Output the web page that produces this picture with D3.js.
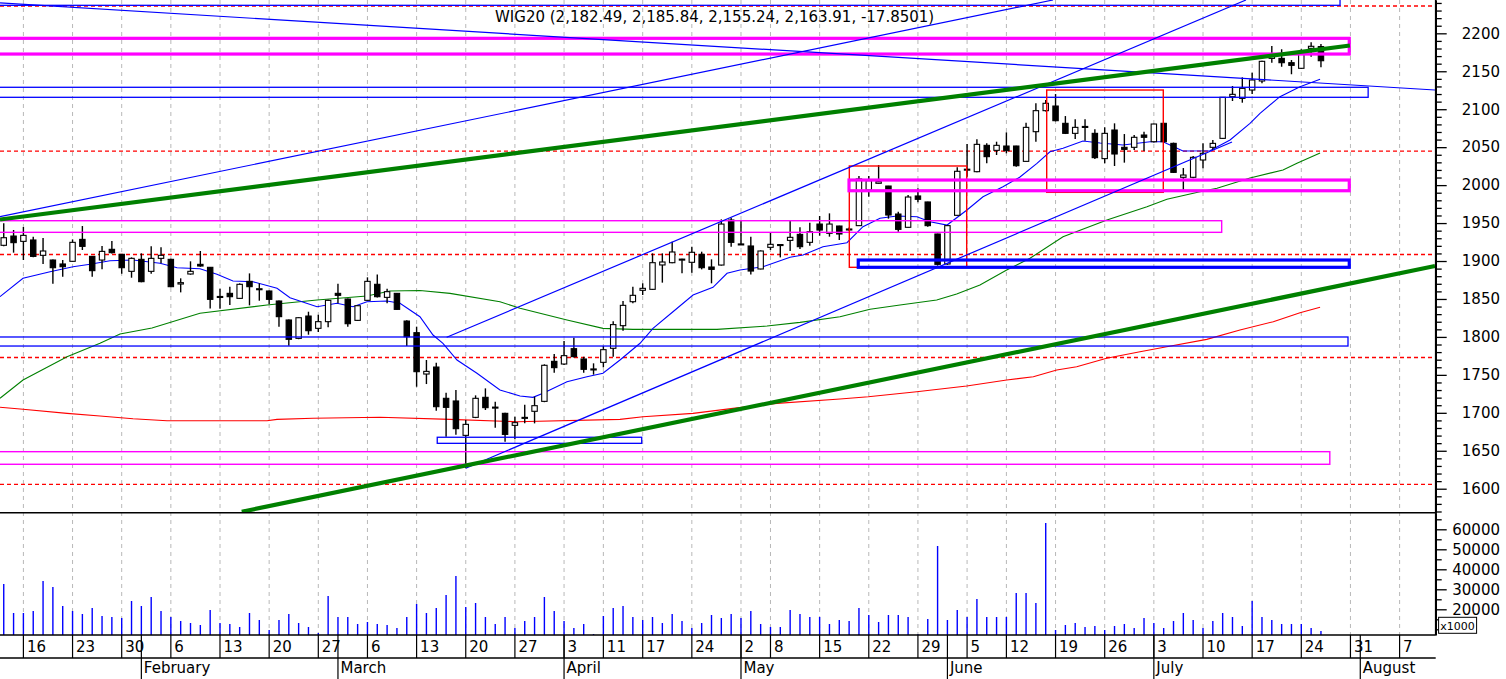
<!DOCTYPE html>
<html><head><meta charset="utf-8">
<script src="https://cdn.jsdelivr.net/npm/d3@7"></script>
<style>
html,body{margin:0;padding:0;background:#fff;overflow:hidden}
svg{display:block}
text{font-family:"DejaVu Sans",sans-serif;fill:#000}
</style></head><body>
<svg id="c" width="1506" height="679"></svg>
<script>
// ---------- trading calendar (WSE 2023) ----------
const calJan=[12,13,16,17,18,19,20,23,24,25,26,27,30,31];
const calFeb=[1,2,3,6,7,8,9,10,13,14,15,16,17,20,21,22,23,24,27,28];
const calMar=[1,2,3,6,7,8,9,10,13,14,15,16,17,20,21,22,23,24,27,28,29,30,31];
const calApr=[3,4,5,6,11,12,13,14,17,18,19,20,21,24,25,26,27,28];
const calMay=[2,4,5,8,9,10,11,12,15,16,17,18,19,22,23,24,25,26,29,30,31];
const calJun=[1,2,5,6,7,9,12,13,14,15,16,19,20,21,22,23,26,27,28,29,30];
const calJul=[3,4,5,6,7,10,11,12,13,14,17,18,19,20,21,24,25,26,27,28,31];
const calAug=[1,2,3,4,7,8,9,10,11];

// ---------- OHLC (12 Jan 2023 .. 26 Jul 2023) ----------
const open=[1920.7,1932.9,1925.9,1927.7,1907.5,1901.3,1896.1,1899.6,1928.5,1906.1,
1901.3,1915.4,1908.8,1886.4,1902.2,1886.4,1903.5,1902.2,1869.7,1882.9,
1895.6,1891.7,1853.0,1857.4,1850.8,1873.2,1862.6,1860.5,1847.3,1822.3,
1798.1,1827.5,1811.3,1820.1,1857.4,1849.9,1821.8,1848.2,1869.3,1852.1,
1857.4,1820.9,1805.6,1751.1,1760.3,1719.1,1715.6,1670.3,1694.0,1720.4,
1707.0,1699.3,1683.5,1693.6,1702.0,1715.1,1767.8,1764.3,1784.5,1770.9,
1757.0,1766.5,1785.0,1814.8,1846.4,1861.4,1862.7,1894.8,1897.8,1902.2,
1898.3,1908.8,1892.1,1894.7,1954.0,1922.5,1919.8,1889.5,1918.0,1921.7,
1927.2,1935.1,1924.6,1948.7,1936.5,1946.1,1942.2,1946.6,1993.6,2002.4,
1998.8,1961.9,1944.4,1985.7,1977.8,1935.6,1896.1,1960.2,2020.5,2017.7,
2052.4,2045.8,2051.5,2051.5,2031.3,2070.4,2098.1,2104.2,2081.4,2068.2,
2077.0,2068.2,2034.9,2072.6,2049.8,2049.8,2066.0,2057.2,2081.4,2055.0,
2010.3,2010.3,2033.1,2049.8,2061.6,2116.5,2114.3,2125.3,2137.2,2167.0,
2167.0,2161.3,2153.9,2180.2,2182.49];
const high=[1949.7,1940.9,1944.8,1932.1,1930.3,1902.0,1901.3,1928.5,1946.1,1906.5,
1919.8,1926.3,1909.2,1904.8,1910.1,1919.3,1918.0,1903.0,1877.2,1899.6,
1913.2,1892.0,1863.5,1866.2,1870.6,1883.7,1870.6,1861.0,1848.0,1823.0,
1826.0,1833.2,1829.3,1849.0,1870.1,1850.5,1842.0,1878.5,1882.4,1863.5,
1858.0,1822.0,1813.5,1769.6,1766.1,1726.5,1730.0,1690.5,1723.0,1732.2,
1714.7,1700.0,1694.9,1710.7,1721.3,1763.9,1777.5,1794.6,1799.0,1774.0,
1765.2,1788.0,1820.5,1847.3,1866.2,1870.6,1910.1,1910.1,1925.5,1903.0,
1918.9,1912.3,1902.2,1954.9,1957.1,1954.0,1932.1,1914.0,1937.3,1922.0,
1953.1,1944.4,1950.5,1959.3,1962.8,1946.5,1944.0,2012.0,2012.0,2026.5,
1999.0,1965.0,1987.0,1995.8,1978.0,1936.0,1947.0,2023.4,2054.2,2060.3,
2055.0,2057.2,2069.5,2052.0,2082.3,2107.8,2112.0,2120.0,2091.0,2086.7,
2086.7,2073.5,2076.1,2081.4,2067.3,2066.0,2070.4,2081.0,2082.0,2056.0,
2022.5,2038.4,2055.0,2059.4,2116.0,2130.6,2142.0,2148.2,2164.0,2183.3,
2178.9,2164.8,2178.9,2188.1,2185.84];
const low=[1919.5,1911.0,1901.3,1904.8,1896.1,1870.1,1879.4,1899.0,1914.5,1879.4,
1889.0,1910.0,1883.3,1878.0,1872.0,1883.3,1896.9,1865.3,1858.7,1882.0,
1892.5,1837.6,1837.2,1842.0,1850.0,1841.6,1847.7,1843.3,1813.5,1788.5,
1797.0,1802.9,1806.4,1812.6,1844.2,1813.5,1821.0,1847.7,1852.0,1844.2,
1835.9,1788.0,1734.4,1737.9,1702.8,1668.5,1671.2,1626.8,1693.0,1703.7,
1680.4,1662.0,1665.1,1686.1,1686.1,1714.0,1752.9,1763.0,1773.0,1752.9,
1750.3,1759.9,1774.0,1808.2,1844.3,1855.2,1861.8,1871.5,1897.0,1883.8,
1884.7,1889.0,1870.6,1894.0,1918.9,1921.0,1882.4,1889.0,1914.5,1904.8,
1913.2,1915.8,1920.2,1933.4,1932.1,1927.7,1940.0,1946.0,1984.8,2002.0,
1955.8,1938.7,1944.0,1977.3,1945.0,1893.9,1895.0,1960.0,2011.1,2017.0,
2028.7,2039.7,2041.9,2024.3,2031.0,2057.2,2097.0,2084.0,2067.3,2060.8,
2058.6,2034.4,2028.7,2025.2,2029.6,2046.3,2045.0,2056.0,2056.0,2016.0,
1991.0,2009.0,2022.1,2046.3,2061.0,2110.8,2108.6,2120.0,2134.1,2161.3,
2156.0,2146.0,2153.0,2169.2,2155.24];
const close=[1930.7,1924.2,1933.8,1906.1,1913.2,1891.2,1892.5,1924.6,1919.3,1887.3,
1912.7,1911.0,1891.2,1903.5,1872.8,1903.5,1907.5,1866.2,1871.5,1886.4,
1893.4,1849.5,1853.3,1853.0,1869.3,1866.2,1863.5,1849.5,1826.7,1796.8,
1825.3,1808.2,1820.1,1848.2,1854.8,1817.4,1841.1,1873.2,1853.0,1859.6,
1836.3,1800.3,1754.2,1754.6,1708.1,1707.2,1679.1,1684.8,1719.1,1706.8,
1707.5,1671.6,1687.0,1694.0,1709.4,1762.6,1759.5,1775.3,1774.0,1757.3,
1757.8,1783.2,1816.2,1841.6,1854.8,1864.0,1897.8,1898.7,1911.9,1902.5,
1911.5,1891.2,1889.0,1948.7,1924.6,1922.0,1886.8,1913.2,1922.0,1921.5,
1931.2,1918.9,1938.6,1940.8,1948.7,1935.6,1942.0,2008.1,2005.9,2004.5,
1960.6,1941.7,1984.3,1981.3,1946.6,1895.6,1946.6,2018.2,2021.0,2053.7,
2037.5,2052.4,2045.4,2025.6,2076.1,2098.1,2107.8,2084.9,2068.2,2076.1,
2077.3,2036.2,2068.2,2041.0,2047.1,2063.0,2063.0,2080.5,2057.2,2016.8,
2013.3,2036.6,2041.9,2055.0,2115.7,2119.6,2127.5,2138.5,2163.1,2171.4,
2161.3,2157.8,2173.6,2182.9,2163.91];
const volume=[32650,18150,18150,19150,34150,31150,21650,19150,17650,20650,
16650,16150,15650,24150,21650,26150,19150,16150,14150,13150,
12150,19650,13150,12650,11150,18150,14650,9650,14650,17650,
13150,11150,8150,26650,16150,16150,12650,13650,12650,12150,
10650,16150,22650,18150,20650,27150,36650,21150,23150,16150,
12650,16150,10650,14150,16150,26150,19150,14150,10650,12650,
7650,16650,20650,21650,16150,14650,16150,13150,17650,14150,
10650,13150,17150,15650,17650,15650,19150,12650,11150,11150,
19650,17650,16150,16150,12650,14650,14150,20650,17150,13650,
17150,17150,16150,7500,15150,51650,14650,19650,16150,25150,
16150,16150,16150,28150,28150,23150,63150,9650,12150,13150,
11150,11650,9650,11650,12650,10650,15650,13150,10650,14150,
18150,14650,10650,14150,18150,16150,11650,24150,16150,14650,
12650,12650,12650,10650,9150];

// ---------- moving averages: [trading day, value] ----------
const maShort=[[-2.38,1853.0],[-0.04,1877.2],[2.71,1885.9],[5.05,1892.5],[6.78,1895.7],[8.81,1900.4],[11.15,1901.3],[13.9,1897.0],[15.63,1891.2],[17.96,1889.9],[19.69,1882.5],[21.32,1873.7],[23.36,1872.7],[25.8,1864.0],[27.12,1851.7],[29.87,1839.8],[31.9,1844.3],[33.53,1839.8],[34.95,1846.4],[36.99,1847.3],[38.31,1844.3],[40.34,1826.6],[41.67,1802.5],[42.68,1791.6],[44.11,1769.6],[46.14,1752.1],[48.48,1730.1],[50.52,1722.1],[51.84,1720.4],[52.86,1725.7],[55.3,1741.0],[57.33,1747.6],[58.96,1752.1],[60.69,1769.6],[62.73,1791.6],[64.05,1811.3],[66.08,1833.2],[68.12,1855.2],[70.15,1865.4],[71.58,1883.8],[72.9,1888.1],[75.24,1892.5],[77.99,1904.9],[79.31,1907.9],[81.34,1918.8],[83.78,1924.1],[85.41,1945.2],[87.14,1956.3],[88.87,1959.3],[90.9,1958.4],[92.23,1951.8],[93.96,1947.4],[95.99,1967.2],[97.62,1984.7],[99.65,1997.9],[101.35,2010.3],[103.11,2028.7],[104.43,2044.0],[105.76,2048.5],[107.79,2058.1],[109.52,2055.5],[111.86,2052.8],[114.61,2057.2],[115.93,2057.2],[117.96,2044.9],[120.71,2045.3],[122.75,2059.4],[124.78,2081.4],[125.8,2094.6],[127.83,2116.5],[129.87,2129.6],[131.91,2139.4]];
const maMid=[[-2.38,1719.1],[-0.04,1743.2],[4.44,1773.9],[7.79,1791.6],[9.83,1803.8],[13.08,1811.7],[17.96,1831.1],[24.78,1842.0],[29.87,1848.6],[34.95,1853.9],[37.29,1860.5],[40.34,1861.1],[43.4,1857.4],[48.48,1846.4],[50.52,1837.7],[55.3,1822.3],[58.96,1811.3],[62.01,1810.0],[70.56,1810.0],[75.65,1814.4],[79.0,1819.2],[83.07,1826.6],[86.13,1836.4],[89.18,1842.1],[92.91,1848.6],[94.94,1856.5],[97.31,1868.4],[100.03,1888.1],[102.4,1903.6],[105.76,1932.0],[110.23,1954.0],[114.3,1971.5],[116.33,1981.3],[119.69,1991.3],[121.42,1995.8],[124.78,2009.4],[128.14,2019.9],[129.56,2028.7],[131.91,2042.3]];
const maLong=[[-2.38,1707.3],[-0.04,1704.6],[4.44,1699.3],[7.79,1695.8],[11.15,1692.2],[14.61,1689.6],[24.78,1689.6],[25.8,1691.4],[29.46,1692.8],[36.28,1694.1],[43.4,1691.4],[50.21,1688.3],[60.69,1691.4],[63.03,1694.9],[68.12,1699.3],[72.19,1705.9],[76.66,1712.5],[83.07,1718.2],[85.95,1721.2],[90.87,1727.8],[95.96,1735.3],[100.03,1743.2],[102.74,1747.6],[105.12,1756.4],[107.15,1760.7],[110.2,1771.8],[113.59,1780.5],[116.31,1787.1],[120.38,1796.8],[123.76,1809.1],[127.15,1820.0],[129.87,1831.9],[131.91,1839.0]];

// ---------- drawn studies: [trading day, price] ----------
const blueTrend=[[[-2.38,1958.4],[104.74,2243.9]],[[-2.38,2240.0],[143.6,2125.3]],[[43.06,1799.5],[124.37,2243.9]],[[45,1627.0],[122.95,2056.8]]];
const greenTrend=[[[-2.38,1954.7],[134.95,2183.9]],[[22.21,1569.7],[143.6,1893.4]]];
// rectangles: [day from, day to, price top, price bottom]
const magentaThick=[[-3,134.88,2193.4,2172.7],[83.99,134.88,2006.7,1992.6]];
const magentaThin=[[-3,121.9,1953.1,1937.8],[-3,132.9,1648.8,1632.2]];
const blueThick=[[84.93,134.88,1901.3,1891.7]];
const blueThin=[[-3,136.8,2128.9,2115.7],[-3,134.75,1799.9,1788.0],[42.1,62.9,1667.8,1659.8],[-3,133.94,2270,2236.9]];
const redRects=[[84.02,95.96,2025.2,1891.7],[104.1,115.96,2125.3,1990.5]];
const redLevels=[2236.0,2044.9,1908.6,1772.9,1605.8];

// ---------- axis labels ----------
const weekTicks=["2023-01-16","2023-01-23","2023-01-30","2023-02-06","2023-02-13","2023-02-20","2023-02-27","2023-03-06","2023-03-13","2023-03-20","2023-03-27","2023-04-03","2023-04-11","2023-04-17","2023-04-24","2023-05-02","2023-05-08","2023-05-15","2023-05-22","2023-05-29","2023-06-05","2023-06-12","2023-06-19","2023-06-26","2023-07-03","2023-07-10","2023-07-17","2023-07-24","2023-07-31","2023-08-07"];
const monthStarts=["2023-02-01","2023-03-01","2023-04-03","2023-05-02","2023-06-01","2023-07-03","2023-08-01"];
const monthNames=["February","March","April","May","June","July","August"];
const priceTicks=d3.range(1600,2201,50);
const volTicks=[20000,30000,40000,50000,60000];
const titleText="WIG20 (2,182.49, 2,185.84, 2,155.24, 2,163.91, -17.8501)";

// ---------- build ----------
const pad=n=>String(n).padStart(2,"0");
const tradingDays=[];
[calJan,calFeb,calMar,calApr,calMay,calJun,calJul,calAug].forEach((arr,m)=>arr.forEach(d=>tradingDays.push(`2023-${pad(m+1)}-${pad(d)}`)));
const dayIndex=d=>tradingDays.indexOf(d)-2;

const W=1506,H=679, axisX=1435.7, priceBottom=512.7, volBottom=635, rowSplit=658;
const x=d3.scaleLinear().domain([0,140]).range([23.4,1399.6]);
const y=d3.scaleLinear().domain([1568.4,2243.9]).range([priceBottom,0]);
const vy=d3.scaleLinear().domain([7150,68300]).range([volBottom,priceBottom]);

const svg=d3.select("#c");
svg.append("rect").attr("width",W).attr("height",H).attr("fill","#fff");
const defs=svg.append("defs");
defs.append("clipPath").attr("id","pc").append("rect").attr("x",0).attr("y",0).attr("width",axisX).attr("height",priceBottom);
defs.append("clipPath").attr("id","vc").append("rect").attr("x",0).attr("y",priceBottom).attr("width",axisX).attr("height",volBottom-priceBottom);

// vertical grid
svg.append("g").selectAll("line").data(weekTicks).join("line")
  .attr("x1",d=>x(dayIndex(d))).attr("x2",d=>x(dayIndex(d)))
  .attr("y1",0).attr("y2",volBottom)
  .attr("stroke","#b8b8b8").attr("stroke-width",1).attr("stroke-dasharray","4,4");

const pg=svg.append("g").attr("clip-path","url(#pc)");
// red dashed levels
pg.append("g").selectAll("line").data(redLevels).join("line")
  .attr("x1",0).attr("x2",axisX).attr("y1",d=>y(d)).attr("y2",d=>y(d))
  .attr("stroke","#ff0000").attr("stroke-width",1.3).attr("stroke-dasharray","4,3");

// moving averages
const maLine=d3.line().x(d=>x(d[0])).y(d=>y(d[1]));
[[maLong,"#ff0000"],[maMid,"#008000"],[maShort,"#0000ff"]].forEach(([s,c])=>{
  pg.append("path").attr("d",maLine(s)).attr("fill","none").attr("stroke",c).attr("stroke-width",1.1);
});

// candles
const candles=tradingDays.slice(0,open.length).map((d,k)=>({i:k-2,o:open[k],h:high[k],l:low[k],c:close[k],v:volume[k]}));
const cg=pg.append("g");
cg.selectAll("line").data(candles).join("line")
  .attr("x1",d=>x(d.i)).attr("x2",d=>x(d.i)).attr("y1",d=>y(d.h)).attr("y2",d=>y(d.l))
  .attr("stroke","#000").attr("stroke-width",1.4);
cg.selectAll("rect").data(candles).join("rect")
  .attr("x",d=>x(d.i)-2.7).attr("width",5.4)
  .attr("y",d=>y(Math.max(d.o,d.c))).attr("height",d=>Math.max(1,Math.abs(y(d.o)-y(d.c))))
  .attr("fill",d=>d.c>=d.o?"#fff":"#000").attr("stroke","#000").attr("stroke-width",1.1);

// rectangles
function rects(data,color,w){
  pg.append("g").selectAll("rect").data(data).join("rect")
    .attr("x",d=>x(d[0])).attr("width",d=>x(d[1])-x(d[0]))
    .attr("y",d=>y(d[2])).attr("height",d=>y(d[3])-y(d[2]))
    .attr("fill","none").attr("stroke",color).attr("stroke-width",w);
}
rects(magentaThin,"#ff00ff",1.4);
rects(blueThin,"#0000ff",1.3);
rects(redRects,"#ff0000",1.4);
rects(blueThick,"#0000ff",3.2);
rects(magentaThick,"#ff00ff",3.2);

// trend lines
pg.append("g").selectAll("line").data(blueTrend).join("line")
  .attr("x1",d=>x(d[0][0])).attr("y1",d=>y(d[0][1])).attr("x2",d=>x(d[1][0])).attr("y2",d=>y(d[1][1]))
  .attr("stroke","#0000ff").attr("stroke-width",1.2);
pg.append("g").selectAll("line").data(greenTrend).join("line")
  .attr("x1",d=>x(d[0][0])).attr("y1",d=>y(d[0][1])).attr("x2",d=>x(d[1][0])).attr("y2",d=>y(d[1][1]))
  .attr("stroke","#008000").attr("stroke-width",4.2);

// volume bars
svg.append("g").attr("clip-path","url(#vc)").selectAll("line").data(candles).join("line")
  .attr("x1",d=>x(d.i)).attr("x2",d=>x(d.i)).attr("y1",volBottom).attr("y2",d=>vy(Math.max(d.v,7150)))
  .attr("stroke","#0000ff").attr("stroke-width",1.4);

// frame lines
const fr=svg.append("g").attr("stroke","#000").attr("stroke-width",1.5);
fr.append("line").attr("x1",0).attr("x2",axisX).attr("y1",priceBottom).attr("y2",priceBottom);
fr.append("line").attr("x1",0).attr("x2",axisX).attr("y1",volBottom).attr("y2",volBottom);
fr.append("line").attr("x1",0).attr("x2",axisX).attr("y1",rowSplit).attr("y2",rowSplit);

// right price axis
const pAxis=svg.append("g").attr("transform",`translate(${axisX},0)`)
  .call(d3.axisRight(y).tickValues(priceTicks).tickSize(11).tickSizeOuter(0).tickFormat(d3.format("d")));
svg.append("g").attr("transform",`translate(${axisX},0)`)
  .call(d3.axisRight(y).tickValues(d3.range(1570,2241,10).filter(v=>v%50)).tickSize(6).tickSizeOuter(0).tickFormat(""))
  .call(g=>g.select(".domain").remove());
const vAxis=svg.append("g").attr("transform",`translate(${axisX},0)`)
  .call(d3.axisRight(vy).tickValues(volTicks).tickSize(11).tickSizeOuter(0).tickFormat(d3.format("d")));
svg.append("g").attr("transform",`translate(${axisX},0)`)
  .call(d3.axisRight(vy).tickValues([10000,15000,25000,35000,45000,55000,65000]).tickSize(6).tickSizeOuter(0).tickFormat(""))
  .call(g=>g.select(".domain").remove());
svg.selectAll(".tick line").attr("stroke","#000").attr("stroke-width",1.3);
svg.selectAll(".domain").attr("stroke","#000").attr("stroke-width",1.6);
[pAxis,vAxis].forEach(a=>a.selectAll(".tick text").attr("x",1500-axisX).attr("text-anchor","end")
  .attr("font-family","DejaVu Sans").attr("font-size",15).attr("fill","#000"));
svg.append("line").attr("x1",axisX).attr("x2",axisX).attr("y1",0).attr("y2",volBottom).attr("stroke","#000").attr("stroke-width",1.6);

// x1000 box
svg.append("rect").attr("x",1438.6).attr("y",617.3).attr("width",38).attr("height",16).attr("fill","#fff").attr("stroke","#000").attr("stroke-width",1);
svg.append("text").attr("x",1457.6).attr("y",629.5).attr("text-anchor","middle").attr("font-size",11).text("x1000");

// date axis
const dg=svg.append("g");
dg.selectAll("line.w").data(weekTicks).join("line").attr("class","w")
  .attr("x1",d=>x(dayIndex(d))).attr("x2",d=>x(dayIndex(d))).attr("y1",volBottom).attr("y2",rowSplit)
  .attr("stroke","#000").attr("stroke-width",1.2);
dg.selectAll("text.w").data(weekTicks).join("text").attr("class","w")
  .attr("x",d=>x(dayIndex(d))+3.5).attr("y",651.5).attr("font-size",15)
  .text(d=>String(+d.slice(8)));
dg.selectAll("line.m").data(monthStarts).join("line").attr("class","m")
  .attr("x1",d=>x(dayIndex(d))).attr("x2",d=>x(dayIndex(d))).attr("y1",volBottom).attr("y2",H)
  .attr("stroke","#000").attr("stroke-width",1.2);
dg.selectAll("text.m").data(monthStarts).join("text").attr("class","m")
  .attr("x",d=>x(dayIndex(d))+2.5).attr("y",673).attr("font-size",15)
  .text((d,k)=>monthNames[k]);

// title
svg.append("text").attr("x",495).attr("y",21.7).attr("font-size",15).text(titleText);
</script>
</body></html>
